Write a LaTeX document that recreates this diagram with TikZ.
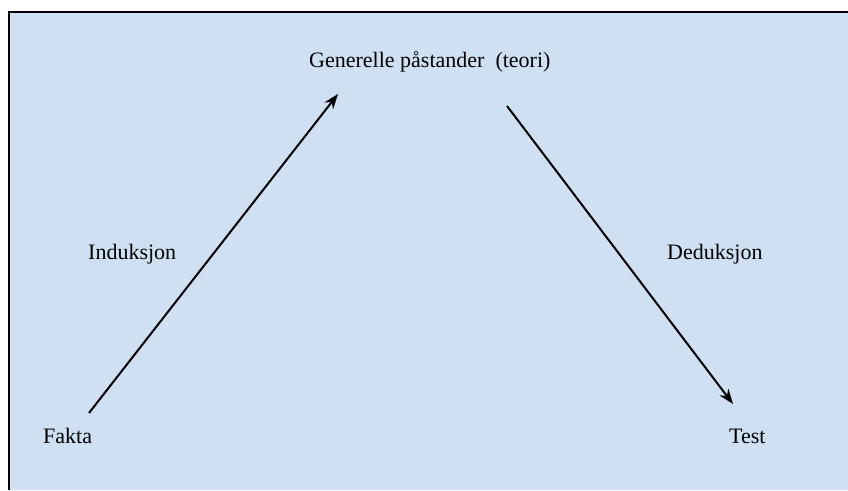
\documentclass[tikz,border=0pt]{standalone}
\usepackage{fontspec}
\setmainfont{Liberation Serif}
\usetikzlibrary{arrows.meta}
\definecolor{bgblue}{RGB}{207,224,242}
\begin{document}
\begin{tikzpicture}[x=1pt,y=-1pt,
  lbl/.style={inner sep=0pt,anchor=base west,font=\fontsize{22}{26}\selectfont},
  arr/.style={line width=2pt,-{Stealth[length=15pt,width=11pt]}}]
\useasboundingbox (0,0) rectangle (848,490);
\fill[white] (0,0) rectangle (848,490);
\fill[bgblue] (9,12) rectangle (848,490);
\draw[line width=2pt] (9,490) -- (9,12) -- (848,12);
\node[lbl] (gen) at (309,67) {Generelle påstander\ \ (teori)};
\node[lbl] (ind) at (88,259) {Induksjon};
\node[lbl] (ded) at (667,259) {Deduksjon};
\node[lbl] (fakta) at (43,443) {Fakta};
\node[lbl] (test) at (729,443) {Test};
\coordinate (a1) at (89,413);
\coordinate (a2) at (338,94);
\coordinate (b1) at (507,106);
\coordinate (b2) at (733,404);
\draw[arr] (a1) -- (a2);
\draw[arr] (b1) -- (b2);
\end{tikzpicture}
\end{document}
